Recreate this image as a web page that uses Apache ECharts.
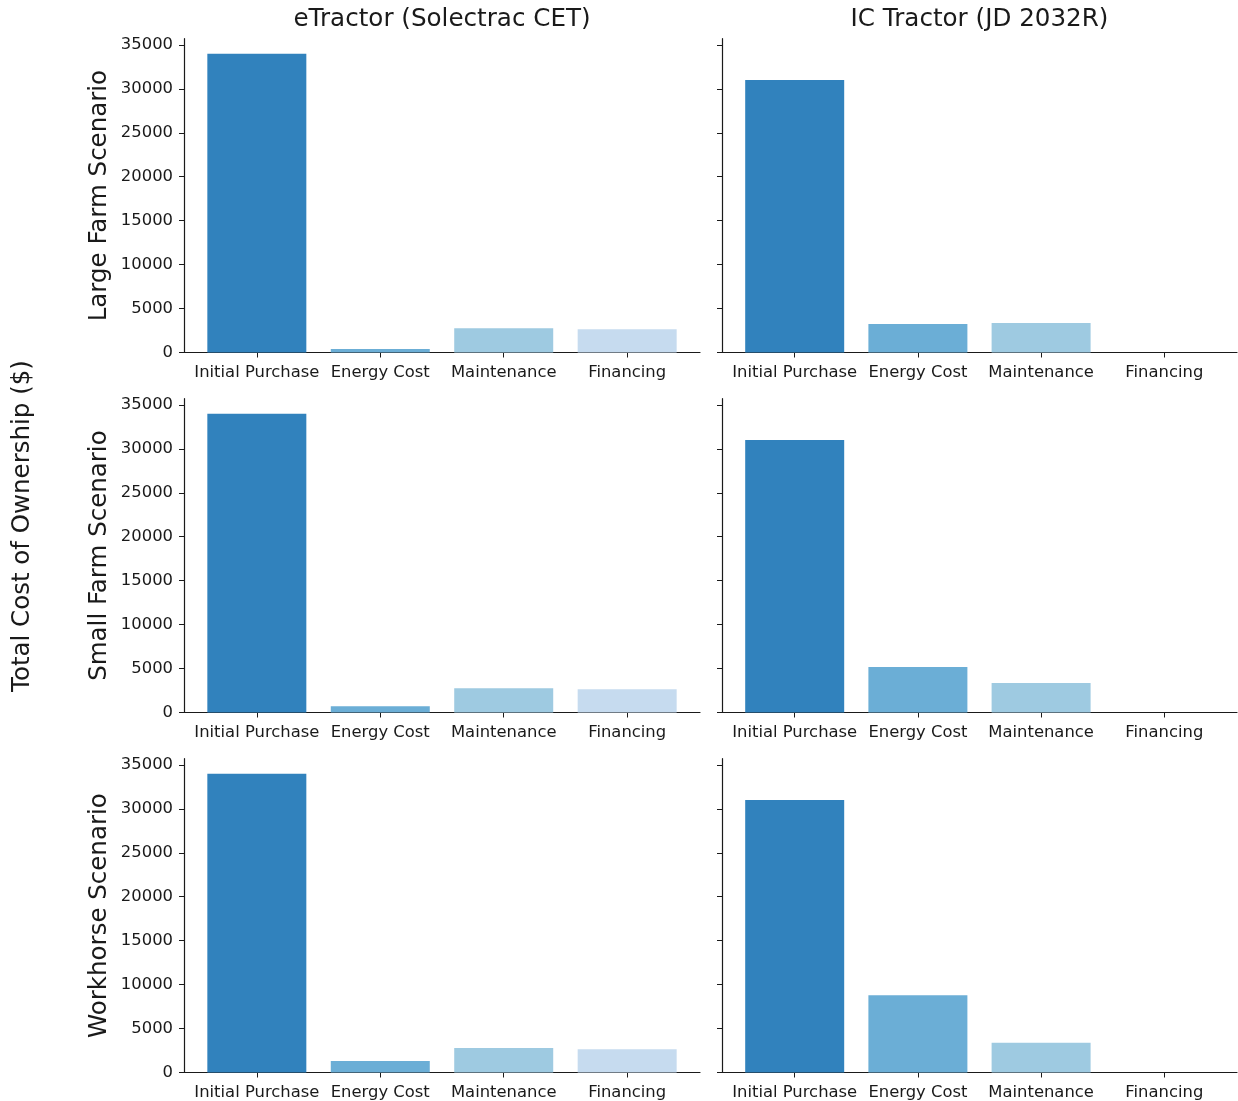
<!DOCTYPE html>
<html>
<head>
<meta charset="utf-8">
<script src="https://cdn.jsdelivr.net/npm/echarts@6/dist/echarts.min.js"></script>
<style>
  html, body { margin: 0; padding: 0; background: #ffffff; }
  #chart { width: 1238px; height: 1101px; }
</style>
</head>
<body>
<div id="chart"></div>
<script>
// Cost components shown on every panel
const categories = ['Initial Purchase', 'Energy Cost', 'Maintenance', 'Financing'];
const columnTitles = ['eTractor (Solectrac CET)', 'IC Tractor (JD 2032R)'];
const scenarios = ['Large Farm Scenario', 'Small Farm Scenario', 'Workhorse Scenario'];
const yTicks = [0, 5000, 10000, 15000, 20000, 25000, 30000, 35000];

// Cost breakdown ($) per scenario and tractor
const eLarge = [34000, 400, 2750, 2640];
const icLarge = [31000, 3240, 3360, 0];
const eSmall = [34000, 700, 2750, 2640];
const icSmall = [31000, 5180, 3360, 0];
const eWorkhorse = [34000, 1310, 2780, 2640];
const icWorkhorse = [31000, 8780, 3390, 0];

const panelValues = [
  [eLarge, icLarge],
  [eSmall, icSmall],
  [eWorkhorse, icWorkhorse]
];

const barColors = ['#3182bd', '#6baed6', '#9ecae1', '#c6dbef'];
const ink = '#1a1a1a';
const font = 'DejaVu Sans';

// Panel geometry
const colLeft = [184, 722];
const colWidth = [516, 515];
const rowTop = [38.7, 398.7, 758.7];
const rowHeight = 313.8;
const xPad = 0.59;           // category margin either side, in category units
const yMax = 35700;

const grids = [], xAxes = [], yAxes = [], series = [];
let idx = 0;
for (let r = 0; r < 3; r++) {
  for (let c = 0; c < 2; c++) {
    grids.push({ left: colLeft[c], top: rowTop[r], width: colWidth[c], height: rowHeight });
    const unit = colWidth[c] / (categories.length - 1 + 2 * xPad);
    xAxes.push({
      type: 'value', gridIndex: idx,
      min: -xPad, max: categories.length - 1 + xPad,
      splitLine: { show: false },
      axisLine: { show: true, onZero: false, lineStyle: { color: ink, width: 1.2 } },
      axisTick: { show: true, length: 5, customValues: categories.map((_, i) => i), lineStyle: { color: ink } },
      axisLabel: {
        customValues: categories.map((_, i) => i),
        formatter: v => categories[Math.round(v)],
        fontFamily: font, fontSize: 16.4, color: ink, margin: 12
      }
    });
    yAxes.push({
      type: 'value', gridIndex: idx, min: 0, max: yMax,
      splitLine: { show: false },
      axisLine: { show: true, onZero: false, lineStyle: { color: ink, width: 1.2 } },
      axisTick: { show: true, length: 5, customValues: yTicks, lineStyle: { color: ink } },
      axisLabel: {
        show: c === 0, customValues: yTicks,
        formatter: v => String(v),
        fontFamily: font, fontSize: 16.4, color: ink, margin: 11
      }
    });
    series.push({
      type: 'bar', xAxisIndex: idx, yAxisIndex: idx,
      barWidth: Math.round(unit * 0.8),
      data: panelValues[r][c].map((v, i) => ({ value: [i, v], itemStyle: { color: barColors[i] } })),
      silent: true
    });
    idx++;
  }
}

const graphics = [];
// Column titles
columnTitles.forEach((t, c) => {
  graphics.push({
    type: 'text', x: colLeft[c] + colWidth[c] / 2, y: 20,
    style: { text: t, font: '24.6px "DejaVu Sans"', fill: ink, textAlign: 'center', textVerticalAlign: 'middle' }
  });
});
// Row labels
scenarios.forEach((s, r) => {
  graphics.push({
    type: 'text', x: 100, y: rowTop[r] + rowHeight / 2, rotation: Math.PI / 2,
    style: { text: s, font: '24.5px "DejaVu Sans"', fill: ink, textAlign: 'center', textVerticalAlign: 'middle' }
  });
});
// Shared y-axis label
graphics.push({
  type: 'text', x: 23, y: 526, rotation: Math.PI / 2,
  style: { text: 'Total Cost of Ownership ($)', font: '24.5px "DejaVu Sans"', fill: ink, textAlign: 'center', textVerticalAlign: 'middle' }
});

const chart = echarts.init(document.getElementById('chart'), null, { renderer: 'canvas' });
chart.setOption({
  backgroundColor: '#ffffff',
  animation: false,
  grid: grids,
  xAxis: xAxes,
  yAxis: yAxes,
  series: series,
  graphic: graphics
});
</script>
</body>
</html>
